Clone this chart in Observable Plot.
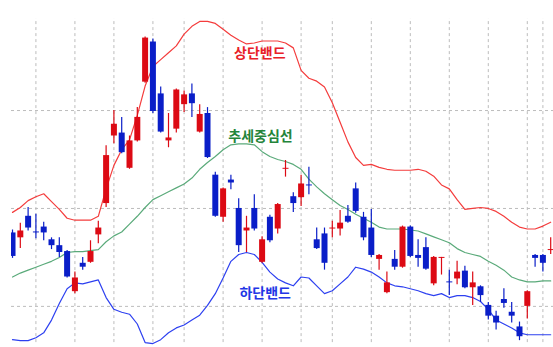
<!DOCTYPE html>
<html>
<head>
<meta charset="utf-8">
<script src="https://cdn.jsdelivr.net/npm/d3@7"></script>
<script src="https://cdn.jsdelivr.net/npm/@observablehq/plot@0.6"></script>
<style>
  html, body { margin: 0; padding: 0; background: #fff; }
</style>
</head>
<body>
<script>
// Daily candles (OHLC) with Bollinger bands
const open  = [1175,1170,1192,1176,1181,1168,1162,1156,1115,1144,
               1145,1173,1205,1274,1277,1241,1269,1329,1370,1317,
               1269,1281,1306,1317,1278,1297,1234,1191,1229,1200,
               1177,1200,1145,1191,1179,1240,1212,1211,1224,1168,
               1174,1179,1179,1192,1220,1191,1180,1148,1114,1148,
               1140,1181,1152,1160,1123,1149,1125,1128,1136,1119,
               1120,1101,1090,1107,1094,1079,1100,1152,1152,1157];
const high  = [1178,1185,1201,1194,1186,1170,1170,1157,1135,1150,
               1167,1187,1264,1300,1293,1274,1303,1375,1373,1324,
               1297,1322,1320,1327,1306,1303,1237,1221,1234,1210,
               1192,1214,1171,1193,1205,1249,1216,1234,1242,1180,
               1180,1187,1198,1203,1226,1196,1199,1153,1135,1157,
               1182,1182,1168,1170,1151,1150,1137,1146,1141,1135,
               1121,1104,1095,1118,1104,1084,1116,1153,1153,1170];
const low   = [1149,1159,1177,1169,1167,1158,1150,1129,1113,1137,
               1144,1164,1201,1266,1256,1240,1268,1328,1297,1277,
               1262,1277,1298,1293,1277,1251,1191,1186,1219,1155,
               1155,1177,1144,1165,1174,1232,1196,1202,1214,1158,
               1137,1170,1172,1185,1195,1167,1150,1137,1113,1137,
               1139,1150,1140,1137,1121,1132,1111,1122,1118,1101,
               1104,1086,1076,1098,1083,1065,1087,1140,1135,1153];
const close = [1151,1177,1180,1175,1175,1162,1155,1130,1129,1140,
               1156,1180,1254,1286,1257,1269,1293,1374,1299,1278,
               1272,1321,1316,1307,1296,1252,1192,1220,1226,1162,
               1180,1179,1168,1167,1204,1241,1205,1225,1223,1159,
               1144,1180,1185,1186,1197,1170,1152,1152,1124,1140,
               1181,1151,1149,1138,1150,1150,1124,1135,1119,1124,
               1111,1090,1083,1103,1090,1069,1115,1149,1144,1158];

// Bollinger bands: upper, middle (moving average), lower
const upper  = [1196,1201,1208,1212,1215,1207,1199,1190,1188,1188,
                1188,1192,1220,1244,1260,1270,1295,1325,1345,1352,
                1359,1366,1378,1386,1391,1391,1389,1383,1377,1372,
                1368,1369,1371,1371,1371,1369,1364,1341,1333,1330,
                1324,1308,1288,1268,1252,1244,1245,1242,1240,1239,
                1239,1239,1240,1238,1233,1224,1220,1209,1199,1200,
                1201,1200,1197,1192,1186,1181,1179,1179,1182,1186];
const middle = [1130,1134,1137,1140,1143,1146,1150,1155,1156,1156,
                1157,1158,1166,1172,1176,1184,1192,1201,1209,1213,
                1217,1221,1225,1231,1240,1247,1253,1260,1265,1266,
                1266,1265,1258,1253,1250,1248,1245,1240,1230,1222,
                1215,1209,1203,1199,1194,1190,1186,1181,1179,1179,
                1179,1178,1177,1174,1171,1168,1165,1159,1155,1153,
                1151,1146,1142,1137,1130,1127,1125,1125,1126,1126];
const lower  = [1066,1065,1065,1068,1073,1086,1103,1118,1124,1123,
                1125,1127,1109,1097,1094,1092,1082,1063,1062,1066,
                1073,1078,1081,1086,1091,1101,1113,1129,1146,1153,
                1155,1153,1145,1135,1128,1124,1121,1130,1129,1121,
                1113,1116,1123,1130,1140,1138,1135,1130,1124,1121,
                1120,1118,1116,1113,1111,1113,1109,1111,1111,1109,
                1105,1097,1086,1082,1078,1073,1071,1071,1071,1071];

// Grid: price levels and week boundaries (candle index)
const priceGrid = [1100, 1200, 1300];
const weekGrid  = [3, 8, 13, 18, 22, 27, 32, 37, 41, 46, 51, 56, 61, 66, 68];

const bandNames = ["상단밴드", "추세중심선", "하단밴드"];

const candles = open.map((o, i) => ({
  i, open: o, high: high[i], low: low[i], close: close[i],
  up: close[i] >= o
}));
const bands = upper.map((u, i) => ({ i, upper: u, middle: middle[i], lower: lower[i] }));

const RED = "#dc0a14";
const BLUE = "#0a1ec8";
const candleColor = d => d.up ? RED : BLUE;
const font = "'Noto Sans CJK KR', 'Noto Sans', sans-serif";

const chart = Plot.plot({
  width: 553,
  height: 347,
  marginLeft: 11,
  marginRight: 0,
  marginTop: 18,
  marginBottom: 0,
  x: { domain: [-0.13, 69.36], axis: null },
  y: { domain: [1058, 1394], axis: null },
  style: { background: "#fff", fontFamily: font },
  marks: [
    Plot.ruleY(priceGrid, { stroke: "#bcbcbc", strokeWidth: 1, strokeDasharray: "3,3" }),
    Plot.ruleX(weekGrid, { y1: 1063, y2: 1394, stroke: "#bcbcbc", strokeWidth: 1, strokeDasharray: "3,3" }),
    Plot.line(bands, { x: "i", y: "upper", stroke: "#f43c3c", strokeWidth: 1.2, clip: true }),
    Plot.line(bands, { x: "i", y: "middle", stroke: "#5aaa7a", strokeWidth: 1.2, clip: true }),
    Plot.line(bands, { x: "i", y: "lower", stroke: "#2d40f0", strokeWidth: 1.2, clip: true }),
    Plot.ruleX(candles, { x: "i", y1: "low", y2: "high", stroke: candleColor, strokeWidth: 1.2, clip: true }),
    Plot.ruleX(candles, { x: "i", y1: "open", y2: "close", stroke: candleColor, strokeWidth: 6, clip: true }),
    Plot.text([bandNames[0]], { x: 31.7, y: 1358, text: d => d, fill: "#e82028", fontSize: 14, fontWeight: 600 }),
    Plot.text([bandNames[1]], { x: 31.8, y: 1273, text: d => d, fill: "#24843a", fontSize: 14, fontWeight: 600 }),
    Plot.text([bandNames[2]], { x: 32.4, y: 1113, text: d => d, fill: "#2236e6", fontSize: 14, fontWeight: 600 })
  ]
});

document.body.appendChild(chart);
</script>
</body>
</html>
